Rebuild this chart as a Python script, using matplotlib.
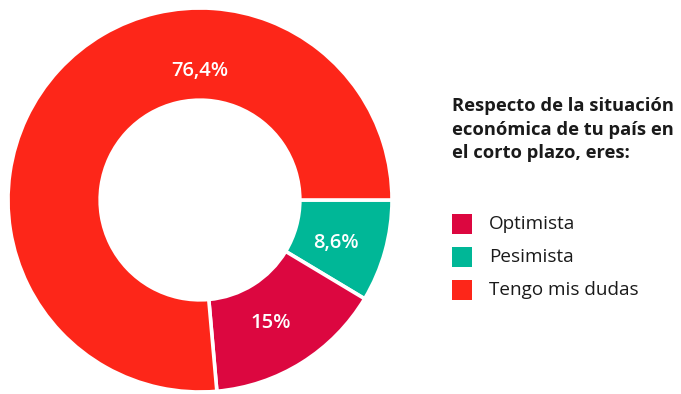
import numpy as np
import matplotlib.pyplot as plt
from matplotlib.patches import Rectangle

# Short-term economic outlook survey
categories = ["Optimista", "Pesimista", "Tengo mis dudas"]
shares = [15.0, 8.6, 76.4]
labels = ["15%", "8,6%", "76,4%"]
colors = ["#DC0740", "#00B797", "#FD2619"]
title = "Respecto de la situación\neconómica de tu país en\nel corto plazo, eres:"

# wedges go clockwise from 3 o'clock: Pesimista, Optimista, Tengo mis dudas
draw_order = [1, 0, 2]

plt.rcParams["font.family"] = ["Open Sans", "DejaVu Sans"]

fig = plt.figure(figsize=(6.81, 3.94), dpi=100)
W, H = 681, 394
ax = fig.add_axes([8 / W, 2 / H, 384 / W, 384 / H])

wedges, _ = ax.pie(
    [shares[i] for i in draw_order],
    colors=[colors[i] for i in draw_order],
    startangle=0,
    counterclock=False,
    radius=1.0,
    wedgeprops=dict(width=0.48, edgecolor="white", linewidth=2.6),
)
ax.set_xlim(-1, 1)
ax.set_ylim(-1, 1)
ax.set_aspect("equal")

# value labels inside the ring
for w, i in zip(wedges, draw_order):
    if categories[i] == "Tengo mis dudas":
        ang, r = 90.0, 0.67
    else:
        ang, r = (w.theta1 + w.theta2) / 2 - 2, 0.74
    x = r * np.cos(np.radians(ang))
    y = r * np.sin(np.radians(ang))
    ax.text(x, y, labels[i], color="white", fontsize=14.5, fontweight="semibold",
            ha="center", va="center")

# legend block on the right
fig.text(452 / W, 1 - 97 / H, title, fontsize=13.2, fontweight="bold",
         color="#1a1a1a", ha="left", va="top", linespacing=1.4)

row_y = [224, 257, 290]
for cat, col, yy in zip(categories, colors, row_y):
    fig.patches.append(Rectangle((452 / W, 1 - (yy + 10) / H), 20 / W, 20 / H,
                                 transform=fig.transFigure, facecolor=col,
                                 edgecolor="none"))
    fig.text(489 / W, 1 - yy / H, cat, fontsize=13.6, color="#1a1a1a",
             ha="left", va="center")

fig.savefig("out.png", dpi=100)
